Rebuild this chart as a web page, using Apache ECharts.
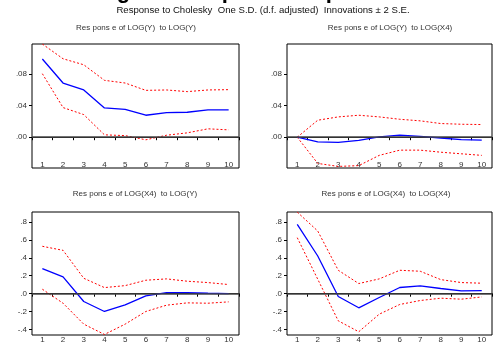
<!DOCTYPE html>
<html>
<head>
<meta charset="utf-8">
<script src="https://cdn.jsdelivr.net/npm/echarts@6/dist/echarts.min.js"></script>
<style>
  html, body { margin: 0; padding: 0; background: #fff; }
  #irf { width: 496px; height: 344px; }
</style>
</head>
<body>
<div id="irf"></div>
<script>
// periods 1..10
const periods = ['1', '2', '3', '4', '5', '6', '7', '8', '9', '10']

// Response of LOG(Y) to LOG(Y)
const yToY = [0.099, 0.0686, 0.0598, 0.037, 0.0353, 0.0278, 0.031, 0.0316, 0.0345, 0.0345]
const yToYUp = [0.118, 0.0993, 0.0917, 0.072, 0.0686, 0.0593, 0.0598, 0.0577, 0.0598, 0.0602]
const yToYLo = [0.0804, 0.0375, 0.0286, 0.003, 0.002, -0.0033, 0.0025, 0.0055, 0.0106, 0.0093]

// Response of LOG(Y) to LOG(X4)
const yToX4 = [0, -0.006, -0.0065, -0.004, 0.0005, 0.0025, 0.001, -0.001, -0.003, -0.0038]
const yToX4Up = [0, 0.0215, 0.0257, 0.0278, 0.0257, 0.0227, 0.0207, 0.0173, 0.0164, 0.016]
const yToX4Lo = [0, -0.0332, -0.037, -0.036, -0.023, -0.0164, -0.0164, -0.019, -0.021, -0.023]

// Response of LOG(X4) to LOG(Y)
const x4ToY = [0.28, 0.187, -0.087, -0.198, -0.124, -0.024, 0.013, 0.013, 0.005, 0.0]
const x4ToYUp = [0.528, 0.483, 0.172, 0.068, 0.09, 0.15, 0.165, 0.139, 0.124, 0.102]
const x4ToYLo = [0.05, -0.106, -0.339, -0.454, -0.339, -0.198, -0.128, -0.102, -0.106, -0.091]

// Response of LOG(X4) to LOG(X4)
const x4ToX4 = [0.772, 0.42, -0.031, -0.157, -0.042, 0.069, 0.087, 0.058, 0.031, 0.035]
const x4ToX4Up = [0.909, 0.698, 0.261, 0.113, 0.165, 0.261, 0.25, 0.157, 0.124, 0.117]
const x4ToX4Lo = [0.624, 0.161, -0.302, -0.424, -0.228, -0.12, -0.076, -0.05, -0.061, -0.036]

// y tick labels
const topTicks = [0, 0.04, 0.08]
const bottomTicks = [-0.4, -0.2, 0, 0.2, 0.4, 0.6, 0.8]

const mainTitle = 'Figure 1: Impulse Responses'
const subTitle = 'Response to Cholesky  One S.D. (d.f. adjusted)  Innovations \u00b1 2 S.E.'
const panelTitles = [
  'Res pons e of LOG(Y)  to LOG(Y)',
  'Res pons e of LOG(Y)  to LOG(X4)',
  'Res pons e of LOG(X4)  to LOG(Y)',
  'Res pons e of LOG(X4)  to LOG(X4)'
]

const FONT = '"Liberation Sans", Arial, sans-serif'
const TXT = '#333'

const panels = [
  {left: 32, top: 44, width: 207, height: 124, min: -0.039, max: 0.118, ticks: topTicks, dec: 2, lblMargin: -7,
    data: [yToY, yToYUp, yToYLo]},
  {left: 287, top: 44, width: 205, height: 124, min: -0.039, max: 0.118, ticks: topTicks, dec: 2, lblMargin: -7,
    data: [yToX4, yToX4Up, yToX4Lo]},
  {left: 32, top: 212, width: 207, height: 124, min: -0.46, max: 0.91, ticks: bottomTicks, dec: 1, lblMargin: 1,
    data: [x4ToY, x4ToYUp, x4ToYLo]},
  {left: 287, top: 212, width: 205, height: 124, min: -0.46, max: 0.91, ticks: bottomTicks, dec: 1, lblMargin: 1,
    data: [x4ToX4, x4ToX4Up, x4ToX4Lo]}
]

const fmt = (dec) => (v) => v.toFixed(dec).replace(/^(-?)0\./, '$1.')

const grid = panels.map(p => ({
  left: p.left, top: p.top, width: p.width, height: p.height,
  show: true, borderColor: '#000', borderWidth: 1, backgroundColor: '#fff'
}))

const xAxis = panels.map((p, i) => ({
  type: 'category',
  gridIndex: i,
  data: periods,
  boundaryGap: true,
  axisLine: {show: true, lineStyle: {color: '#000', width: 1}},
  axisTick: {show: true, length: 3, lineStyle: {color: '#000'}},
  axisLabel: {color: TXT, fontSize: 8, fontFamily: FONT, interval: 0, margin: p.lblMargin},
  splitLine: {show: false}
}))

const yAxis = panels.map((p, i) => ({
  type: 'value',
  gridIndex: i,
  min: p.min,
  max: p.max,
  axisLine: {show: false},
  axisTick: {show: true, length: 3, customValues: p.ticks, lineStyle: {color: '#000'}},
  axisLabel: {
    color: TXT, fontSize: 8, fontFamily: FONT, margin: 5,
    customValues: p.ticks, formatter: fmt(p.dec)
  },
  splitLine: {show: false}
}))

const series = []
panels.forEach((p, i) => {
  series.push({
    type: 'line', xAxisIndex: i, yAxisIndex: i, data: p.data[0],
    symbol: 'none', z: 4,
    lineStyle: {color: '#0000ff', width: 1.3},
    markLine: {
      silent: true, symbol: 'none', label: {show: false},
      lineStyle: {color: '#444', width: 1.6, type: 'solid'},
      data: [{yAxis: 0}]
    }
  })
  ;[1, 2].forEach(k => {
    series.push({
      type: 'line', xAxisIndex: i, yAxisIndex: i, data: p.data[k],
      symbol: 'none', z: 3,
      lineStyle: {color: '#ff0000', width: 1, type: [2, 2]}
    })
  })
})

const graphic = [
  {type: 'text', x: 250, y: 3, style: {text: mainTitle, fill: '#000', font: 'bold 22px ' + FONT,
    textAlign: 'center', textVerticalAlign: 'bottom'}},
  {type: 'text', x: 263, y: 10, style: {text: subTitle, fill: '#111', font: '9.6px ' + FONT,
    textAlign: 'center', textVerticalAlign: 'middle'}}
]
const titlePos = [[136, 28], [390, 28], [135, 194], [386, 194]]
panelTitles.forEach((t, i) => {
  graphic.push({type: 'text', x: titlePos[i][0], y: titlePos[i][1],
    style: {text: t, fill: TXT, font: '8px ' + FONT, textAlign: 'center', textVerticalAlign: 'middle'}})
})

const chart = echarts.init(document.getElementById('irf'), null, {renderer: 'canvas'})
chart.setOption({
  animation: false,
  backgroundColor: '#fff',
  grid, xAxis, yAxis, series, graphic
})
</script>
</body>
</html>
